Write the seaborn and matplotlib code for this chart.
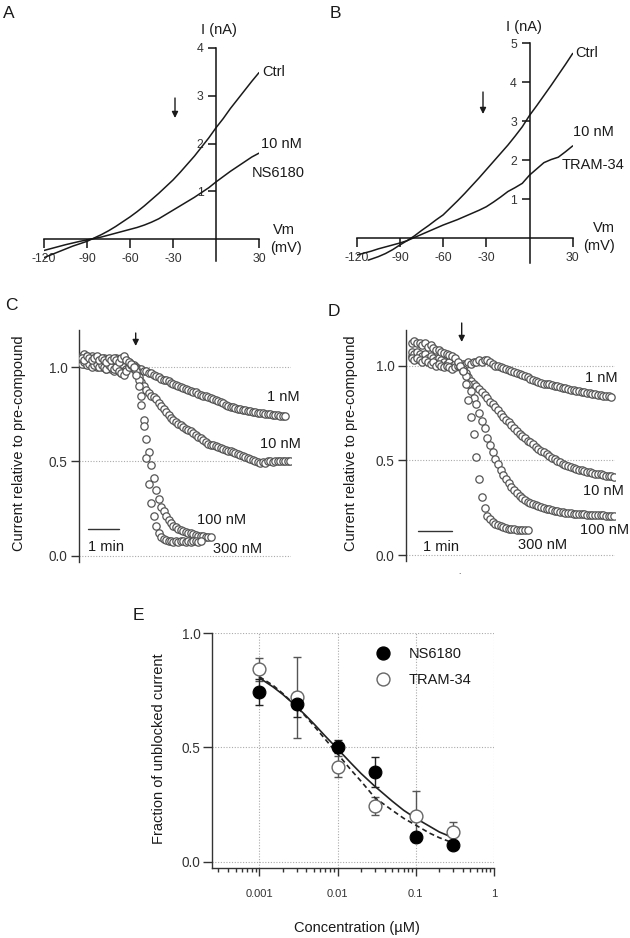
import numpy as np
import matplotlib
matplotlib.use('Agg')
import matplotlib.pyplot as plt
import seaborn as sns
from matplotlib.lines import Line2D

sns.set_theme(style='white')
plt.rcParams['font.family'] = ['Liberation Sans', 'DejaVu Sans']
plt.rcParams['axes.unicode_minus'] = False

# ---------------- data ----------------
# Panel A: I-V, NS6180
A_vm = [-120, -115, -110, -105, -100, -95, -90, -85, -80, -75, -70, -65, -60, -55, -50, -45,
        -40, -35, -30, -25, -20, -15, -10, -5, 0, 5, 10, 15, 20, 25, 30]
A_ctrl = [-0.38, -0.32, -0.26, -0.20, -0.14, -0.09, -0.04, 0.03, 0.10, 0.18, 0.27, 0.37, 0.47, 0.58,
          0.70, 0.83, 0.96, 1.10, 1.24, 1.40, 1.57, 1.74, 1.93, 2.12, 2.33, 2.52, 2.73, 2.92, 3.11, 3.30, 3.48]
A_ns6180 = [-0.23, -0.19, -0.15, -0.11, -0.075, -0.04, -0.01, 0.02, 0.05, 0.09, 0.13, 0.17, 0.21, 0.25,
            0.30, 0.36, 0.43, 0.52, 0.61, 0.70, 0.79, 0.88, 0.98, 1.08, 1.20, 1.31, 1.42, 1.52, 1.62, 1.72, 1.80]

# Panel B: I-V, TRAM-34
B_vm_ctrl = [-112, -105, -100, -95, -90, -85, -80, -75, -70, -65, -60, -55, -50, -45, -40, -35, -30,
             -25, -20, -15, -10, -5, 0, 5, 10, 15, 20, 25, 30]
B_ctrl = [-0.56, -0.47, -0.39, -0.29, -0.17, -0.06, 0.06, 0.20, 0.33, 0.47, 0.60, 0.78, 0.96, 1.15,
          1.35, 1.55, 1.76, 1.97, 2.18, 2.39, 2.62, 2.86, 3.15, 3.40, 3.66, 3.92, 4.19, 4.46, 4.74]
B_vm_tram = [-120, -115, -110, -105, -100, -95, -90, -85, -80, -75, -70, -65, -60, -55, -50, -45,
             -40, -35, -30, -25, -20, -15, -10, -5, 0, 5, 10, 15, 20, 25, 30]
B_tram34 = [-0.43, -0.38, -0.33, -0.27, -0.22, -0.17, -0.12, -0.06, 0.02, 0.10, 0.18, 0.26, 0.34, 0.41,
            0.48, 0.56, 0.64, 0.72, 0.81, 0.93, 1.06, 1.20, 1.30, 1.41, 1.62, 1.78, 1.94, 2.02, 2.08, 2.22, 2.37]

SAMPLE_MIN = 0.08  # sampling interval of the time courses (min)

# Panel C: NS6180 time courses (current relative to pre-compound)
C_1nM = [1.06, 1.07, 1.06, 1.05, 1.06, 1.05, 1.04, 1.05, 1.04, 1.05, 1.04, 1.04, 1.03, 1.04, 1.05, 1.03,
         1.04, 1.05, 1.04, 1.03, 1.02, 1.01,
         1.00, 0.99, 0.99, 0.98, 0.98, 0.97, 0.97, 0.96, 0.955, 0.95, 0.94, 0.935, 0.93, 0.925, 0.915,
         0.91, 0.905, 0.90, 0.895, 0.89, 0.885, 0.88, 0.875, 0.87, 0.87, 0.86, 0.855, 0.85, 0.845,
         0.84, 0.835, 0.83, 0.825, 0.82, 0.815, 0.81, 0.80, 0.795, 0.79, 0.787, 0.785, 0.78, 0.778,
         0.775, 0.772, 0.77, 0.768, 0.765, 0.763, 0.76, 0.758, 0.755, 0.753, 0.752, 0.75, 0.748,
         0.746, 0.745, 0.743, 0.741, 0.74]
C_10nM = [1.03, 1.02, 1.02, 1.01, 1.02, 1.01, 1.00, 1.01, 1.00, 1.00, 0.99, 1.00, 0.99, 0.98, 0.99, 0.98,
          0.97, 0.98, 0.99, 1.00, 1.00, 0.99,
          0.99, 0.95, 0.92, 0.90, 0.88, 0.865, 0.85, 0.84, 0.83, 0.81, 0.795, 0.78, 0.765, 0.745, 0.73,
          0.72, 0.71, 0.70, 0.695, 0.685, 0.675, 0.665, 0.66, 0.65, 0.64, 0.63, 0.625, 0.615, 0.605,
          0.595, 0.59, 0.585, 0.58, 0.575, 0.57, 0.565, 0.56, 0.555, 0.555, 0.55, 0.545, 0.54, 0.535,
          0.53, 0.525, 0.52, 0.515, 0.51, 0.50, 0.495, 0.49, 0.495, 0.49, 0.50, 0.50, 0.495, 0.50,
          0.505, 0.50, 0.505, 0.50, 0.505, 0.505]
C_100nM = [1.02, 1.03, 1.01, 1.02, 1.00, 1.01, 1.02, 1.00, 1.01, 1.00, 0.99, 1.01, 1.00, 0.99, 1.00, 0.98,
           0.97, 0.96, 0.98, 1.00, 1.01, 1.00,
           0.98, 0.93, 0.85, 0.72, 0.62, 0.55, 0.48, 0.41, 0.35, 0.30, 0.26, 0.235, 0.21, 0.19, 0.175,
           0.16, 0.15, 0.143, 0.137, 0.132, 0.127, 0.122, 0.118, 0.114, 0.11, 0.107, 0.105, 0.103,
           0.10, 0.10, 0.10]
C_300nM = [1.05, 1.04, 1.06, 1.05, 1.04, 1.05, 1.06, 1.04, 1.05, 1.04, 1.03, 1.05, 1.04, 1.05, 1.04, 1.03,
           1.05, 1.06, 1.04, 1.03, 1.02, 1.00,
           0.96, 0.90, 0.80, 0.69, 0.52, 0.38, 0.28, 0.21, 0.16, 0.12, 0.10, 0.09, 0.085, 0.08, 0.08,
           0.075, 0.08, 0.075, 0.08, 0.08, 0.075, 0.08, 0.075, 0.08, 0.08, 0.075, 0.08]

# Panel D: TRAM-34 time courses
D_1nM = [1.05, 1.06, 1.05, 1.04, 1.05, 1.04, 1.03, 1.04, 1.03, 1.02, 1.03, 1.02, 1.01, 1.02, 1.01, 1.00,
         1.01, 1.00,
         1.00, 1.01, 1.01, 1.02, 1.01, 1.02, 1.02, 1.03, 1.02, 1.03, 1.03, 1.02, 1.01, 1.00, 0.995,
         0.99, 0.985, 0.98, 0.975, 0.97, 0.965, 0.96, 0.955, 0.95, 0.945, 0.94, 0.93, 0.925, 0.92,
         0.915, 0.91, 0.905, 0.905, 0.90, 0.895, 0.89, 0.89, 0.885, 0.88, 0.88, 0.875, 0.87, 0.87,
         0.865, 0.865, 0.86, 0.86, 0.855, 0.855, 0.85, 0.85, 0.845, 0.845, 0.84, 0.84, 0.838, 0.836]
D_10nM = [1.07, 1.06, 1.07, 1.06, 1.05, 1.06, 1.04, 1.05, 1.04, 1.03, 1.04, 1.03, 1.02, 1.01, 1.02, 1.00,
          1.01, 1.00,
          0.995, 0.98, 0.96, 0.94, 0.92, 0.905, 0.89, 0.875, 0.86, 0.845, 0.83, 0.81, 0.795, 0.78,
          0.765, 0.745, 0.73, 0.715, 0.70, 0.685, 0.67, 0.655, 0.64, 0.63, 0.62, 0.605, 0.595, 0.585,
          0.572, 0.562, 0.552, 0.543, 0.535, 0.525, 0.515, 0.505, 0.497, 0.49, 0.482, 0.475, 0.47,
          0.465, 0.46, 0.456, 0.452, 0.448, 0.444, 0.44, 0.437, 0.434, 0.43, 0.428, 0.426, 0.424,
          0.42, 0.418, 0.416, 0.414]
D_100nM = [1.04, 1.03, 1.04, 1.03, 1.02, 1.03, 1.02, 1.01, 1.02, 1.00, 1.01, 1.00, 0.99, 1.00, 0.99, 0.98,
           0.99, 1.00,
           0.99, 0.97, 0.945, 0.905, 0.865, 0.83, 0.795, 0.75, 0.71, 0.67, 0.62, 0.58, 0.546, 0.51,
           0.48, 0.45, 0.425, 0.40, 0.38, 0.36, 0.345, 0.33, 0.315, 0.30, 0.29, 0.283, 0.276, 0.27,
           0.264, 0.259, 0.254, 0.25, 0.246, 0.242, 0.238, 0.235, 0.232, 0.229, 0.227, 0.225, 0.223,
           0.221, 0.22, 0.219, 0.218, 0.217, 0.216, 0.215, 0.214, 0.213, 0.212, 0.212, 0.211, 0.211,
           0.21, 0.21, 0.21, 0.21]
D_300nM = [1.12, 1.13, 1.12, 1.12, 1.11, 1.12, 1.10, 1.11, 1.09, 1.08, 1.08, 1.07, 1.065, 1.06, 1.055,
           1.05, 1.04, 1.02,
           1.00, 0.97, 0.90, 0.82, 0.73, 0.64, 0.52, 0.40, 0.31, 0.25, 0.21, 0.19, 0.175, 0.165, 0.16,
           0.155, 0.15, 0.145, 0.14, 0.14, 0.138, 0.135, 0.136, 0.134, 0.135, 0.136]

# Panel E: concentration-response
E_conc = [0.001, 0.003, 0.01, 0.03, 0.1, 0.3]
E_ns6180 = [0.742, 0.689, 0.504, 0.394, 0.107, 0.074]
E_ns6180_err = [0.056, 0.054, 0.03, 0.066, 0.02, 0.015]
E_tram34 = [0.842, 0.72, 0.416, 0.244, 0.20, 0.131]
E_tram34_err = [0.051, 0.178, 0.046, 0.04, 0.111, 0.043]
E_fit_conc = [0.001, 0.0015, 0.002, 0.003, 0.004, 0.005, 0.007, 0.01, 0.015, 0.02, 0.03, 0.05,
              0.07, 0.1, 0.15, 0.2, 0.3]
E_fit_ns6180 = [0.805, 0.765, 0.732, 0.679, 0.637, 0.603, 0.549, 0.494, 0.43, 0.386, 0.33, 0.265,
                0.225, 0.19, 0.155, 0.13, 0.105]
E_fit_tram34 = [0.81, 0.772, 0.736, 0.679, 0.632, 0.594, 0.535, 0.472, 0.40, 0.352, 0.28, 0.225,
                0.19, 0.16, 0.125, 0.105, 0.082]

# ---------------- layout helpers ----------------
W, H = 630, 938
TXT = '#1a1a1a'
fig = plt.figure(figsize=(W / 100, H / 100), dpi=100)


def P(x, y):
    return (x / W, 1 - y / H)


def axes_px(left, top, right, bottom):
    return fig.add_axes([left / W, 1 - bottom / H, (right - left) / W, (bottom - top) / H])


def label(x, y, s, size=10.5, ha='left', va='center', **kw):
    fig.text(x / W, 1 - y / H, s, fontsize=size, ha=ha, va=va, color=TXT, **kw)


def arrow(x, y0, y1):
    fig.add_artist(matplotlib.patches.FancyArrowPatch(
        P(x, y0), P(x, y1), transform=fig.transFigure, arrowstyle='-|>',
        mutation_scale=9, color='k', lw=1.0, shrinkA=0, shrinkB=0))


def iv_axes(ax, xlim, ylim, yticks):
    ax.set_xlim(*xlim)
    ax.set_ylim(*ylim)
    ax.patch.set_alpha(0)
    for s in ['top', 'right']:
        ax.spines[s].set_visible(False)
    ax.spines['left'].set_position(('data', 0))
    ax.spines['bottom'].set_position(('data', 0))
    for s in ['left', 'bottom']:
        ax.spines[s].set_color('#111111')
        ax.spines[s].set_linewidth(1.1)
    ax.set_xticks([-120, -90, -60, -30, 30])
    ax.set_xticklabels(['-120', '-90', '-60', '-30', '30'])
    ax.set_yticks(yticks)
    ax.set_yticklabels([str(t) for t in yticks])
    ax.tick_params(axis='x', direction='out', length=6.5, width=1.1, pad=3, labelsize=8.8,
                   colors='#111111', labelcolor='#333333', bottom=True)
    ax.tick_params(axis='y', direction='out', length=6, width=1.1, pad=3, labelsize=8.8,
                   colors='#111111', labelcolor='#333333', left=True)
    ax.set_xlabel('')
    ax.set_ylabel('')


# ---------------- Panel A ----------------
axA = axes_px(44, 47.7, 259, 261)
sns.lineplot(x=A_vm, y=A_ctrl, ax=axA, color='k', lw=1.1, estimator=None, sort=False)
sns.lineplot(x=A_vm, y=A_ns6180, ax=axA, color='k', lw=1.1, estimator=None, sort=False)
iv_axes(axA, (-120, 30), (-0.45, 4.0), [1, 2, 3, 4])
label(3, 13, 'A', size=12.5)
label(218.5, 30, 'I (nA)', ha='center')
label(262, 72, 'Ctrl')
label(261, 144, '10 nM')
label(252, 173, 'NS6180')
label(273, 230, 'Vm')
label(270, 248, '(mV)')
arrow(175, 98, 118)

# ---------------- Panel B ----------------
axB = axes_px(356.7, 43.3, 572.7, 262.9)
sns.lineplot(x=B_vm_ctrl, y=B_ctrl, ax=axB, color='k', lw=1.1, estimator=None, sort=False)
sns.lineplot(x=B_vm_tram, y=B_tram34, ax=axB, color='k', lw=1.1, estimator=None, sort=False)
iv_axes(axB, (-120, 30), (-0.63, 5.0), [1, 2, 3, 4, 5])
label(330, 13, 'B', size=12.5)
label(524, 27, 'I (nA)', ha='center')
label(575, 53, 'Ctrl')
label(573, 132, '10 nM')
label(562, 165, 'TRAM-34')
label(593, 228, 'Vm')
label(583, 246, '(mV)')
arrow(483, 92, 114)


# ---------------- Panels C & D ----------------
def time_axes(ax, xlim, ylim):
    ax.set_xlim(*xlim)
    ax.set_ylim(*ylim)
    for s in ['top', 'right', 'bottom']:
        ax.spines[s].set_visible(False)
    ax.spines['left'].set_color('#333333')
    ax.spines['left'].set_linewidth(1.0)
    ax.set_xticks([])
    ax.set_yticks([0.0, 0.5, 1.0])
    ax.set_yticklabels(['0.0', '0.5', '1.0'])
    ax.tick_params(axis='y', direction='out', length=5.5, width=1.0, pad=3, labelsize=9.8,
                   colors='#333333', labelcolor='#333333', left=True)
    ax.yaxis.grid(True, linestyle=(0, (1, 1.5)), color='#aaaaaa', linewidth=0.8)
    ax.xaxis.grid(False)
    ax.set_axisbelow(True)
    ax.set_xlabel('')
    ax.set_ylabel('')


def draw_course(ax, values):
    t = np.arange(len(values)) * SAMPLE_MIN
    sns.scatterplot(x=t, y=values, ax=ax, marker='o', s=28, color='white',
                    edgecolor='#555555', linewidth=0.9, zorder=3, legend=False)


axC = axes_px(79.3, 330, 291, 561.7)
for series in [C_1nM, C_10nM, C_100nM, C_300nM]:
    draw_course(axC, series)
time_axes(axC, (-0.077, 6.75), (-0.032, 1.198))
axC.plot([0.2, 1.2], [0.14, 0.14], color='#333333', lw=1.0)
label(5, 305, 'C', size=12.5)
label(19, 443, 'Current relative to pre-compound', ha='center', rotation=90)
label(267, 397, '1 nM')
label(260, 444, '10 nM')
label(197, 520, '100 nM')
label(213, 549, '300 nM')
label(88, 547, '1 min')
arrow(135.7, 333, 346)

axD = axes_px(406.2, 330, 615, 560.7)
for series in [D_1nM, D_10nM, D_100nM, D_300nM]:
    draw_course(axD, series)
time_axes(axD, (-0.163, 6.03), (-0.028, 1.187))
axD.plot([0.196, 1.196], [0.128, 0.128], color='#333333', lw=1.0)
label(328, 312, 'D', size=12.5)
label(351, 443, 'Current relative to pre-compound', ha='center', rotation=90)
label(585, 378, '1 nM')
label(583, 491, '10 nM')
label(580, 530, '100 nM')
label(518, 545, '300 nM')
label(423, 547, '1 min')
label(459, 572, '.', size=6, ha='center')
arrow(461.7, 323, 342)

# ---------------- Panel E ----------------
axE = axes_px(211.7, 633.3, 494, 868.3)
axE.set_xscale('log')
axE.errorbar(E_conc, E_tram34, yerr=E_tram34_err, fmt='none', ecolor='#555555', elinewidth=1.0,
             capsize=3, capthick=1.0, zorder=2)
axE.errorbar(E_conc, E_ns6180, yerr=E_ns6180_err, fmt='none', ecolor='#222222', elinewidth=1.0,
             capsize=3, capthick=1.0, zorder=2)
sns.lineplot(x=E_fit_conc, y=E_fit_ns6180, ax=axE, color='#222222', lw=1.2, estimator=None,
             sort=False, zorder=3)
sns.lineplot(x=E_fit_conc, y=E_fit_tram34, ax=axE, color='#222222', lw=1.2, estimator=None,
             sort=False, zorder=3, linestyle=(0, (3, 2)))
sns.scatterplot(x=E_conc, y=E_tram34, ax=axE, marker='o', s=85, color='white', edgecolor='#666666',
                linewidth=1.0, zorder=4, legend=False)
sns.scatterplot(x=E_conc, y=E_ns6180, ax=axE, marker='o', s=85, color='black', edgecolor='black',
                linewidth=0.8, zorder=5, legend=False)
axE.set_xlim(0.000246, 1.0)
axE.set_ylim(-0.029, 1.0)
for s in ['top', 'right']:
    axE.spines[s].set_visible(False)
for s in ['left', 'bottom']:
    axE.spines[s].set_color('#333333')
    axE.spines[s].set_linewidth(1.0)
axE.set_xticks([0.001, 0.01, 0.1, 1])
axE.set_xticklabels(['0.001', '0.01', '0.1', '1'])
axE.xaxis.set_minor_locator(matplotlib.ticker.LogLocator(base=10, subs=np.arange(2, 10)))
axE.xaxis.set_minor_formatter(matplotlib.ticker.NullFormatter())
axE.set_yticks([0.0, 0.5, 1.0])
axE.set_yticklabels(['0.0', '0.5', '1.0'])
axE.tick_params(axis='x', which='major', direction='out', length=6, width=1.0, pad=9, labelsize=8.0,
                colors='#333333', labelcolor='#333333', bottom=True)
axE.tick_params(axis='x', which='minor', direction='out', length=3.2, width=1.0, colors='#333333',
                bottom=True)
axE.tick_params(axis='y', direction='out', length=6.5, width=1.0, pad=1.5, labelsize=9.8,
                colors='#333333', labelcolor='#333333', left=True)
axE.grid(True, which='major', linestyle=(0, (1, 1.5)), color='#aaaaaa', linewidth=0.8)
axE.grid(False, which='minor')
axE.set_axisbelow(True)
axE.set_xlabel('')
axE.set_ylabel('')
handles = [Line2D([], [], marker='o', ls='none', markersize=9.3, markerfacecolor='black',
                  markeredgecolor='black'),
           Line2D([], [], marker='o', ls='none', markersize=9.3, markerfacecolor='white',
                  markeredgecolor='#666666')]
leg = axE.legend(handles, ['NS6180', 'TRAM-34'], loc='upper left', bbox_to_anchor=P(375.4, 647),
                 bbox_transform=fig.transFigure, frameon=False, fontsize=10.5, handlelength=1.0,
                 handletextpad=1.3, labelspacing=0.85, borderpad=0, borderaxespad=0)
for txt in leg.get_texts():
    txt.set_color(TXT)
label(133, 616, 'E', size=12.5)
label(159, 749, 'Fraction of unblocked current', ha='center', rotation=90)
label(356.7, 928, 'Concentration (µM)', ha='center')

fig.savefig('out.png', dpi=100)
